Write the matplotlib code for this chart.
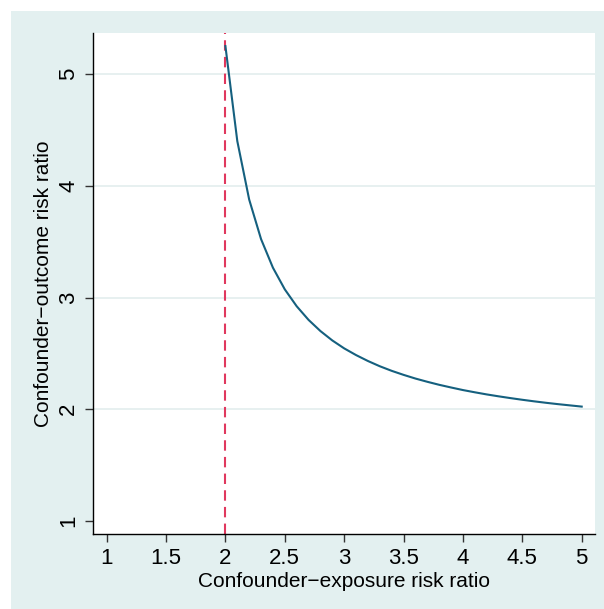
import numpy as np
import matplotlib.pyplot as plt
from matplotlib.patches import Rectangle

plt.rcParams['font.family'] = ['Liberation Sans', 'DejaVu Sans']

## data
exposure_rr = [2.0, 2.1, 2.2, 2.3, 2.4, 2.5, 2.6, 2.7, 2.8, 2.9, 3.0,
               3.1, 3.2, 3.3, 3.4, 3.5, 3.6, 3.7, 3.8, 3.9, 4.0,
               4.1, 4.2, 4.3, 4.4, 4.5, 4.6, 4.7, 4.8, 4.9, 5.0]
outcome_rr = [5.25, 4.40, 3.877, 3.523, 3.267, 3.073, 2.922, 2.800, 2.700, 2.616, 2.545,
              2.485, 2.432, 2.385, 2.344, 2.308, 2.275, 2.246, 2.219, 2.195, 2.172,
              2.152, 2.133, 2.116, 2.100, 2.085, 2.071, 2.058, 2.046, 2.035, 2.024]
ref_line = 2
xticks = [1, 1.5, 2, 2.5, 3, 3.5, 4, 4.5, 5]
xticklabels = ["1", "1.5", "2", "2.5", "3", "3.5", "4", "4.5", "5"]
yticks = [1, 2, 3, 4, 5]

W, H = 604, 609
fig = plt.figure(figsize=(W/100, H/100), dpi=100)
fig.patch.set_facecolor("white")
bg = "#e3f0f0"
# outer (graph region) background, leaving a thin white margin top/left
fig.add_artist(Rectangle((11/W, 0), 1, 1 - 11/H, transform=fig.transFigure,
                         facecolor=bg, edgecolor="none", zorder=-10))

ax = fig.add_axes([93/W, 1 - 534/H, (595-93)/W, (534-33)/H])
ax.set_facecolor("white")

for y in yticks[1:]:
    ax.axhline(y, color="#e3eeee", lw=1.2, zorder=1)

ax.axvline(ref_line, color="#e0385e", lw=1.5, ls=(0, (5, 3)), zorder=2)
ax.plot(exposure_rr, outcome_rr, color="#15607f", lw=1.5, zorder=3)

ax.set_xlim(0.885, 5.112)
ax.set_ylim(0.884, 5.367)
ax.set_xticks(xticks)
ax.set_xticklabels(xticklabels)
ax.set_yticks(yticks)
ax.set_yticklabels([str(y) for y in yticks], rotation=90, va="center")

for s in ["top", "right"]:
    ax.spines[s].set_visible(False)
for s in ["left", "bottom"]:
    ax.spines[s].set_color("black")
    ax.spines[s].set_linewidth(1.0)
ax.tick_params(length=6, width=1, color="#333333", labelsize=16, pad=4)

ax.set_xlabel("Confounder\u2212exposure risk ratio", fontsize=15, labelpad=2)
ax.set_ylabel("Confounder\u2212outcome risk ratio", fontsize=15, labelpad=4)

fig.savefig("out.png", dpi=100)
